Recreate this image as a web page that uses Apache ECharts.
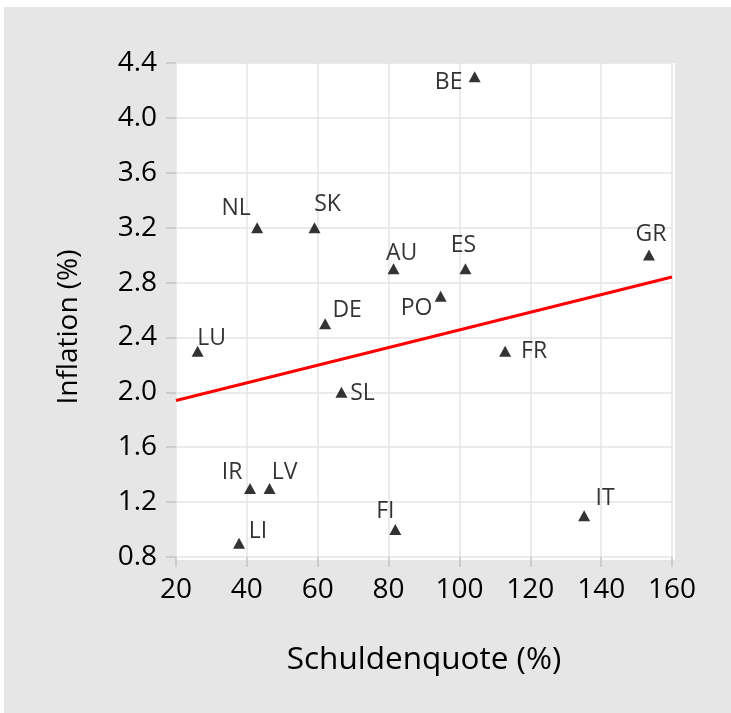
<!DOCTYPE html>
<html>
<head>
<meta charset="utf-8">
<script src="https://cdn.jsdelivr.net/npm/echarts@6/dist/echarts.min.js"></script>
<style>
html,body{margin:0;padding:0;background:#fff;}
#chart{width:731px;height:713px;}
</style>
</head>
<body>
<div id="chart"></div>
<script>
// ---- data ----
const countries = ['BE','GR','AU','ES','PO','DE','LU','SL','FR','IR','LV','LI','FI','NL','SK','IT'];
const debtRatio = [104.3,153.5,81.4,101.7,94.7,62.1,26.1,66.7,112.9,40.9,46.4,37.8,81.9,42.9,59.1,135.2];
const inflation = [4.3,3.0,2.9,2.9,2.7,2.5,2.3,2.0,2.3,1.3,1.3,0.9,1.0,3.2,3.2,1.1];
const trendX = [20,160];
const trendY = [1.94,2.84];
const xTicks = [20,40,60,80,100,120,140,160];
const yTicks = ['0.8','1.2','1.6','2.0','2.4','2.8','3.2','3.6','4.0','4.4'];
// label placement (layout only)
const labelOffsets = [[-26,6],[2,-21],[8,-15],[-2,-23],[-24,12],[22,-13],[14,-13],[21,1],[29,0],[-18,-16],[15,-16],[19,-12],[-10,-18],[-21,-19],[13,-23],[21,-17]];

const FONT = '"Open Sans", "Noto Sans", sans-serif';
const chart = echarts.init(document.getElementById('chart'), null, {renderer:'canvas'});

const scatterData = countries.map((c,i)=>({
  name:c, value:[debtRatio[i], inflation[i]],
  label:{offset:labelOffsets[i]}
}));

chart.setOption({
  backgroundColor:'#ffffff',
  animation:false,
  graphic:[
    {type:'rect', z:-10, silent:true, shape:{x:4,y:7,width:727,height:706}, style:{fill:'#e6e6e6'}},
    {type:'rect', z:-9, silent:true, shape:{x:176,y:63,width:499,height:497}, style:{fill:'#ffffff'}}
  ],
  grid:{left:176, top:63, right:59, bottom:156, containLabel:false},
  xAxis:{
    type:'value', min:xTicks[0], max:xTicks[xTicks.length-1], interval:20,
    name:'Schuldenquote (%)', nameLocation:'middle', nameGap:87,
    nameTextStyle:{fontFamily:FONT, fontSize:31.5, color:'#000'},
    axisLine:{show:false},
    axisTick:{show:true, length:10, lineStyle:{color:'#c4c4c4', width:1.5}},
    axisLabel:{margin:19, fontFamily:FONT, fontSize:28, color:'#000'},
    splitLine:{show:true, lineStyle:{color:'#e4e4e4', width:1.5}}
  },
  yAxis:{
    type:'value', min:Number(yTicks[0]), max:Number(yTicks[yTicks.length-1]), interval:0.4,
    name:'Inflation (%)', nameLocation:'middle', nameGap:93, nameRotate:90,
    nameTextStyle:{fontFamily:FONT, fontSize:28, color:'#000', padding:[0,34,0,0]},
    axisLine:{show:false},
    axisTick:{show:true, length:10, lineStyle:{color:'#c4c4c4', width:1.5}},
    axisLabel:{margin:19, fontFamily:FONT, fontSize:28, color:'#000', formatter:v=>v.toFixed(1)},
    splitLine:{show:true, lineStyle:{color:'#e4e4e4', width:1.5}}
  },
  series:[
    {
      type:'line', silent:true, symbol:'none', z:2,
      data:trendX.map((x,i)=>[x,trendY[i]]),
      lineStyle:{color:'#ff0000', width:3}
    },
    {
      type:'scatter', z:3, symbol:'triangle', symbolSize:[12,11],
      itemStyle:{color:'#000'},
      label:{show:true, position:'inside', formatter:p=>p.name, fontFamily:FONT, fontSize:23, color:'#000', align:'center', verticalAlign:'middle'},
      data:scatterData
    }
  ]
});
</script>
</body>
</html>
